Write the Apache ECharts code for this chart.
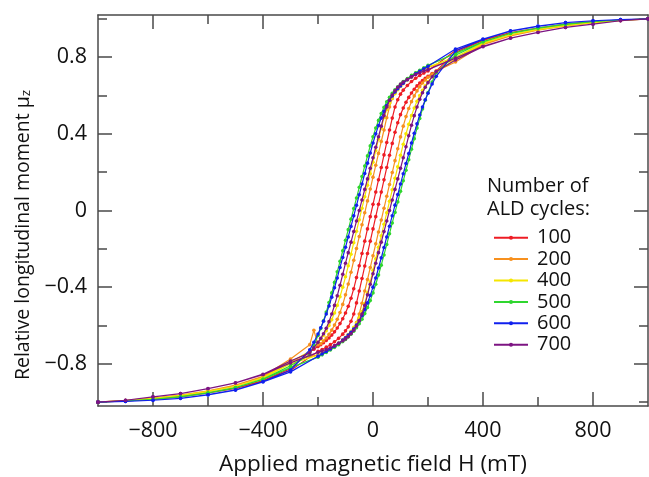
<!DOCTYPE html>
<html><head><meta charset="utf-8">
<script src="https://cdn.jsdelivr.net/npm/echarts@6/dist/echarts.min.js"></script>
<style>html,body{margin:0;padding:0;background:#fff}#c{width:649px;height:477px}</style>
</head><body><div id="c"></div>
<script>
// Number of ALD cycles (legend)
const CYCLES = ['100', '200', '400', '500', '600', '700'];
const COLORS = ['#ee1c24', '#f7901e', '#f5e600', '#2fd62f', '#1020ee', '#7d1482'];

// Applied field H (mT): descending branch (from +sat) and ascending branch (from -sat)
const H_DESC = [1000,900,800,700,600,500,400,300,200,185,170,155,140,125,110,100,90,80,70,60,50,40,30,20,10,0,-10,-20,-30,-40,-50,-60,-70,-80,-90,-100,-110,-120,-130,-140,-150,-160,-170,-180,-190,-200,-215,-230,-300,-400,-500,-600,-700,-800,-900,-1000];
const H_ASC = [-1000,-900,-800,-700,-600,-500,-400,-300,-200,-185,-170,-155,-140,-125,-110,-100,-90,-80,-70,-60,-50,-40,-30,-20,-10,0,10,20,30,40,50,60,70,80,90,100,110,120,130,140,150,160,170,180,190,200,215,230,300,400,500,600,700,800,900,1000];

// Relative longitudinal moment mu_z
const M_DESC_100 = [1.0,0.994,0.986,0.972,0.952,0.928,0.89,0.835,0.728,0.717,0.704,0.69,0.673,0.652,0.628,0.607,0.578,0.54,0.482,0.42,0.355,0.29,0.224,0.16,0.096,0.032,-0.032,-0.096,-0.16,-0.224,-0.288,-0.35,-0.408,-0.458,-0.50,-0.535,-0.565,-0.59,-0.613,-0.633,-0.65,-0.665,-0.678,-0.69,-0.70,-0.71,-0.724,-0.737,-0.825,-0.887,-0.927,-0.951,-0.971,-0.986,-0.994,-1.0];
const M_ASC_100 = [-1.0,-0.994,-0.986,-0.972,-0.952,-0.928,-0.89,-0.835,-0.735,-0.725,-0.713,-0.70,-0.685,-0.667,-0.645,-0.628,-0.607,-0.578,-0.54,-0.482,-0.42,-0.355,-0.29,-0.224,-0.16,-0.096,-0.032,0.032,0.096,0.16,0.224,0.288,0.35,0.408,0.458,0.50,0.535,0.565,0.59,0.613,0.633,0.65,0.665,0.678,0.69,0.70,0.715,0.728,0.825,0.887,0.927,0.951,0.971,0.986,0.994,1.0];

const M_DESC_200 = [1.0,0.991,0.979,0.964,0.942,0.912,0.868,0.785,0.748,0.738,0.728,0.716,0.702,0.686,0.667,0.652,0.635,0.615,0.585,0.54,0.484,0.42,0.36,0.298,0.236,0.174,0.112,0.05,-0.012,-0.074,-0.136,-0.198,-0.26,-0.322,-0.384,-0.44,-0.49,-0.532,-0.568,-0.598,-0.624,-0.646,-0.665,-0.681,-0.695,-0.70,-0.625,-0.70,-0.775,-0.865,-0.911,-0.941,-0.963,-0.979,-0.991,-1.0];
const M_ASC_200 = [-1.0,-0.991,-0.979,-0.964,-0.942,-0.912,-0.868,-0.785,-0.753,-0.745,-0.735,-0.725,-0.712,-0.697,-0.68,-0.667,-0.652,-0.635,-0.615,-0.585,-0.54,-0.484,-0.42,-0.36,-0.298,-0.236,-0.174,-0.112,-0.05,0.012,0.074,0.136,0.198,0.26,0.322,0.384,0.44,0.49,0.532,0.568,0.598,0.624,0.646,0.665,0.681,0.695,0.712,0.727,0.775,0.865,0.911,0.941,0.963,0.979,0.991,1.0];

const M_DESC_400 = [1.0,0.992,0.98,0.966,0.945,0.918,0.875,0.80,0.748,0.738,0.726,0.713,0.697,0.681,0.662,0.647,0.63,0.61,0.587,0.56,0.527,0.485,0.43,0.372,0.312,0.252,0.192,0.132,0.072,0.012,-0.048,-0.108,-0.168,-0.228,-0.288,-0.346,-0.40,-0.45,-0.495,-0.535,-0.57,-0.60,-0.627,-0.651,-0.672,-0.689,-0.713,-0.735,-0.79,-0.872,-0.917,-0.944,-0.965,-0.98,-0.992,-1.0];
const M_ASC_400 = [-1.0,-0.992,-0.98,-0.966,-0.945,-0.918,-0.875,-0.80,-0.755,-0.745,-0.734,-0.722,-0.708,-0.692,-0.675,-0.662,-0.647,-0.63,-0.61,-0.587,-0.56,-0.527,-0.485,-0.43,-0.372,-0.312,-0.252,-0.192,-0.132,-0.072,-0.012,0.048,0.108,0.168,0.228,0.288,0.346,0.40,0.45,0.495,0.535,0.57,0.60,0.627,0.651,0.672,0.698,0.72,0.79,0.872,0.917,0.944,0.965,0.98,0.992,1.0];

const M_DESC_500 = [1.0,0.994,0.985,0.972,0.952,0.925,0.882,0.82,0.757,0.745,0.732,0.719,0.705,0.689,0.673,0.66,0.646,0.63,0.612,0.591,0.567,0.538,0.506,0.47,0.43,0.385,0.337,0.285,0.232,0.177,0.121,0.065,0.01,-0.045,-0.10,-0.155,-0.21,-0.265,-0.32,-0.375,-0.43,-0.48,-0.53,-0.575,-0.615,-0.652,-0.703,-0.753,-0.81,-0.879,-0.924,-0.951,-0.971,-0.985,-0.994,-1.0];
const M_ASC_500 = [-1.0,-0.994,-0.985,-0.972,-0.952,-0.925,-0.882,-0.82,-0.765,-0.753,-0.741,-0.728,-0.714,-0.70,-0.684,-0.673,-0.66,-0.646,-0.63,-0.612,-0.591,-0.567,-0.538,-0.506,-0.47,-0.43,-0.385,-0.337,-0.285,-0.232,-0.177,-0.121,-0.065,-0.01,0.045,0.10,0.155,0.21,0.265,0.32,0.375,0.43,0.48,0.53,0.575,0.615,0.67,0.72,0.81,0.879,0.924,0.951,0.971,0.985,0.994,1.0];

const M_DESC_600 = [1.0,0.996,0.99,0.98,0.962,0.937,0.895,0.842,0.752,0.739,0.726,0.713,0.698,0.682,0.664,0.65,0.635,0.618,0.598,0.575,0.548,0.517,0.482,0.443,0.40,0.352,0.30,0.247,0.193,0.138,0.082,0.027,-0.028,-0.083,-0.138,-0.192,-0.245,-0.297,-0.352,-0.403,-0.452,-0.498,-0.54,-0.578,-0.612,-0.644,-0.687,-0.727,-0.832,-0.892,-0.936,-0.961,-0.98,-0.99,-0.996,-1.0];
const M_ASC_600 = [-1.0,-0.996,-0.99,-0.98,-0.962,-0.937,-0.895,-0.842,-0.76,-0.748,-0.735,-0.722,-0.708,-0.693,-0.676,-0.664,-0.65,-0.635,-0.618,-0.598,-0.575,-0.548,-0.517,-0.482,-0.443,-0.40,-0.352,-0.30,-0.247,-0.193,-0.138,-0.082,-0.027,0.028,0.083,0.138,0.192,0.245,0.297,0.352,0.403,0.452,0.498,0.54,0.578,0.612,0.66,0.70,0.832,0.892,0.936,0.961,0.98,0.99,0.996,1.0];

const M_DESC_700 = [1.0,0.99,0.972,0.955,0.93,0.90,0.857,0.795,0.735,0.728,0.719,0.709,0.697,0.684,0.67,0.658,0.643,0.625,0.603,0.575,0.54,0.495,0.44,0.385,0.33,0.275,0.22,0.165,0.11,0.055,0.0,-0.055,-0.11,-0.165,-0.22,-0.275,-0.333,-0.39,-0.445,-0.495,-0.54,-0.58,-0.614,-0.643,-0.667,-0.688,-0.716,-0.743,-0.785,-0.854,-0.899,-0.929,-0.955,-0.972,-0.99,-1.0];
const M_ASC_700 = [-1.0,-0.99,-0.972,-0.955,-0.93,-0.90,-0.857,-0.795,-0.74,-0.733,-0.725,-0.716,-0.705,-0.693,-0.68,-0.67,-0.658,-0.643,-0.625,-0.603,-0.575,-0.54,-0.495,-0.44,-0.385,-0.33,-0.275,-0.22,-0.165,-0.11,-0.055,0.0,0.055,0.11,0.165,0.22,0.275,0.333,0.39,0.445,0.495,0.54,0.58,0.614,0.643,0.667,0.698,0.725,0.785,0.854,0.899,0.929,0.955,0.972,0.99,1.0];

// Tick positions / labels
const X_MAJOR = [-800, -400, 0, 400, 800];
const X_MINOR = [-600, -200, 200, 600];
const Y_MAJOR = [-0.8, -0.4, 0, 0.4, 0.8];
const Y_MINOR = [-1.0, -0.6, -0.2, 0.2, 0.6, 1.0];

const DESC = [M_DESC_100, M_DESC_200, M_DESC_400, M_DESC_500, M_DESC_600, M_DESC_700];
const ASC = [M_ASC_100, M_ASC_200, M_ASC_400, M_ASC_500, M_ASC_600, M_ASC_700];

const FONT = '"Open Sans", "Noto Sans", sans-serif';
const AX = '#4a4a4a';
const fmt = v => (v < 0 ? '\u2212' + String(Math.abs(v)) : String(v));

function xAx(pos, vals, len, main) {
  return {
    type: 'value', min: -1000, max: 1000, position: pos,
    axisLine: { show: main, onZero: false, lineStyle: { color: AX, width: 1.5 } },
    axisTick: { show: true, inside: true, length: len, customValues: vals, lineStyle: { color: AX, width: 1.5 } },
    axisLabel: (main && pos === 'bottom') ? { show: true, customValues: X_MAJOR, formatter: fmt, fontSize: 21.5, color: '#111', fontFamily: FONT, margin: 14 } : { show: false },
    splitLine: { show: false },
    name: (main && pos === 'bottom') ? 'Applied magnetic field H (mT)' : '',
    nameLocation: 'middle', nameGap: 47,
    nameTextStyle: { fontSize: 22.5, color: '#111', fontFamily: FONT }
  };
}
function yAx(pos, vals, len, main) {
  return {
    type: 'value', min: -1.02, max: 1.02, position: pos,
    axisLine: { show: main, onZero: false, lineStyle: { color: AX, width: 1.5 } },
    axisTick: { show: true, inside: true, length: len, customValues: vals, lineStyle: { color: AX, width: 1.5 } },
    axisLabel: (main && pos === 'left') ? { show: true, customValues: Y_MAJOR, formatter: fmt, fontSize: 21.5, color: '#111', fontFamily: FONT, margin: 11 } : { show: false },
    splitLine: { show: false }
  };
}

const series = CYCLES.map((name, k) => ({
  name: name, type: 'line', xAxisIndex: 0, yAxisIndex: 0,
  data: H_DESC.map((h, i) => [h, DESC[k][i]]).concat(H_ASC.map((h, i) => [h, ASC[k][i]])),
  symbol: 'circle', symbolSize: 3.6, showSymbol: true,
  lineStyle: { width: 1.2, color: COLORS[k] },
  itemStyle: { color: COLORS[k] },
  emphasis: { disabled: true },
  z: 2 + k
}));

const chart = echarts.init(document.getElementById('c'), null, { renderer: 'canvas' });
chart.setOption({
  animation: false,
  backgroundColor: '#fff',
  grid: { left: 98, right: 1, top: 15, bottom: 71, containLabel: false, outerBoundsMode: 'none' },
  xAxis: [xAx('bottom', X_MAJOR, 14, true), xAx('bottom', X_MINOR, 9, false), xAx('top', X_MAJOR, 14, true), xAx('top', X_MINOR, 9, false)],
  yAxis: [yAx('left', Y_MAJOR, 14, true), yAx('left', Y_MINOR, 9, false), yAx('right', Y_MAJOR, 14, true), yAx('right', Y_MINOR, 9, false)],
  legend: {
    data: CYCLES, orient: 'vertical', left: 493, top: 227,
    itemWidth: 34, itemHeight: 5, itemGap: 0, padding: 0, selectedMode: false,
    textStyle: { fontSize: 20, color: '#111', fontFamily: FONT, lineHeight: 21.4, padding: [0, 0, 0, 4] }
  },
  graphic: [{
    type: 'text', left: 487, top: 175,
    style: { text: 'Number of\nALD cycles:', fontSize: 20, fontFamily: FONT, fill: '#111', lineHeight: 23 }
  }, {
    type: 'text', x: 23, y: 235, rotation: Math.PI / 2,
    style: {
      text: 'Relative longitudinal moment \u03bc{s|z}',
      fontSize: 19.5, fontFamily: FONT, fill: '#111', align: 'center', verticalAlign: 'middle',
      rich: { s: { fontSize: 13.5, fontFamily: FONT, fill: '#111', verticalAlign: 'bottom', padding: [7, 0, 0, 0] } }
    }
  }],
  series: series
});
</script></body></html>
